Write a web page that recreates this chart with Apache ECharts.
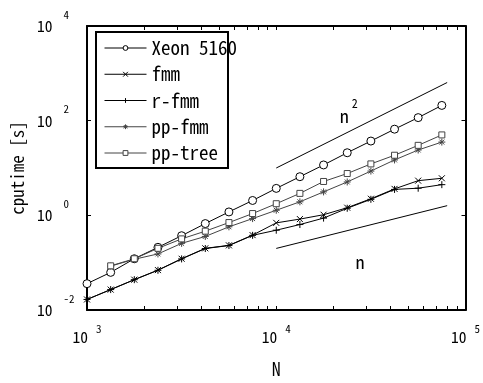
<!DOCTYPE html>
<html><head><meta charset="utf-8">
<script src="https://cdn.jsdelivr.net/npm/echarts@6/dist/echarts.min.js"></script>
<style>html,body{margin:0;padding:0;background:#fff}#c{width:483px;height:383px}</style>
</head><body><div id="c"></div>
<script>
// ---- data ----
const N      = [1000, 1334, 1778, 2371, 3162, 4217, 5623, 7499, 10000, 13335, 17783, 23714, 31623, 42170, 56234, 74989];
const xeon   = [0.036, 0.0624, 0.121, 0.211, 0.371, 0.670, 1.18, 2.06, 3.71, 6.55, 11.6, 21.0, 37.1, 66.1, 116, 210];
const fmm    = [0.0167, 0.0270, 0.0437, 0.0697, 0.121, 0.201, 0.232, 0.382, 0.693, 0.833, 1.03, 1.45, 2.24, 3.62, 5.40, 6.06];
const rfmm   = [0.0167, 0.0270, 0.0437, 0.0690, 0.120, 0.199, 0.230, 0.378, 0.485, 0.639, 0.874, 1.41, 2.18, 3.53, 3.74, 4.45];
const ppfmm  = [null, 0.0845, 0.118, 0.153, 0.256, 0.358, 0.572, 0.853, 1.28, 1.93, 3.13, 5.07, 8.61, 14.8, 24.0, 35.3];
const pptree = [null, 0.0857, 0.121, 0.201, 0.318, 0.463, 0.703, 1.09, 1.76, 2.91, 5.19, 7.64, 12.2, 18.6, 30.1, 50.0];
const refN   = [10000, 80000];
const refN2  = [10, 640];
const refN1  = [0.2, 1.6];
const names  = ['Xeon 5160', 'fmm', 'r-fmm', 'pp-fmm', 'pp-tree'];
const xMajor = [1000, 10000, 100000];
const xTicks = [1000, 2000, 3000, 4000, 5000, 6000, 7000, 8000, 9000, 10000, 20000, 30000, 40000, 50000, 60000, 70000, 80000, 90000, 100000];
const yMajor = [0.01, 1, 100, 10000];
const annoN2 = [23000, 160];
const annoN1 = [27700, 0.102];

const FONT = "'Noto Sans Mono CJK JP', 'DejaVu Sans Mono', monospace";
const pairs = (xs, ys) => xs.map((x, i) => [x, ys[i]]).filter(p => p[1] != null);

const P_X = 'path://M0,0L10,10M10,0L0,10';
const P_PLUS = 'path://M5,0L5,10M0,5L10,5';
const P_STAR = 'path://M5,0L5,10M0,5L10,5M1.5,1.5L8.5,8.5M8.5,1.5L1.5,8.5';

function mk(name, ys, symbol, size, color) {
  return {
    name, type: 'line', data: pairs(N, ys), symbol, symbolSize: size,
    showSymbol: true, animation: false, z: 3,
    lineStyle: { color, width: 1 },
    itemStyle: { color: '#fff', borderColor: color, borderWidth: 1 }
  };
}

const expFmt = v => '{b|10}{e|' + Math.round(Math.log10(v)) + '}';
const axisLineStyle = { show: true, lineStyle: { color: '#000', width: 2 } };

const chart = echarts.init(document.getElementById('c'), null, { renderer: 'canvas' });
chart.setOption({
  animation: false,
  backgroundColor: '#fff',
  grid: { left: 87, top: 26, width: 380, height: 287, containLabel: false },
  xAxis: [
    { type: 'log', logBase: 10, min: 1000, max: 100000, position: 'bottom',
      name: 'N', nameLocation: 'middle', nameGap: 50,
      nameTextStyle: { fontSize: 18, fontFamily: FONT, color: '#000' },
      axisLine: axisLineStyle,
      axisTick: { show: true, inside: true, length: 4, customValues: xTicks, lineStyle: { color: '#000' } },
      minorTick: { show: false }, splitLine: { show: false },
      axisLabel: { customValues: xMajor, margin: 13, formatter: expFmt, color: '#000',
        rich: { b: { fontSize: 15.5, fontFamily: FONT, lineHeight: 28, verticalAlign: 'middle', color: '#000' },
                e: { fontSize: 11, fontFamily: FONT, lineHeight: 10, verticalAlign: 'top', padding: [0, 0, 0, 8], color: '#000' } } } },
    { type: 'log', logBase: 10, min: 1000, max: 100000, position: 'top',
      axisLine: axisLineStyle,
      axisTick: { show: true, inside: true, length: 4, customValues: xTicks, lineStyle: { color: '#000' } },
      splitLine: { show: false }, axisLabel: { show: false } }
  ],
  yAxis: [
    { type: 'log', logBase: 10, min: 0.01, max: 10000, position: 'left',
      name: 'cputime [s]', nameLocation: 'middle', nameGap: 58,
      nameTextStyle: { fontSize: 17, fontFamily: FONT, color: '#000' },
      axisLine: axisLineStyle,
      axisTick: { show: true, inside: true, length: 4, customValues: yMajor, lineStyle: { color: '#000' } },
      splitLine: { show: false },
      axisLabel: { customValues: yMajor, margin: 50, align: 'left', formatter: expFmt, color: '#000',
        rich: { b: { fontSize: 15.5, fontFamily: FONT, lineHeight: 34, verticalAlign: 'middle', color: '#000' },
                e: { fontSize: 11, fontFamily: FONT, lineHeight: 12, verticalAlign: 'top', padding: [0, 0, 0, 11], color: '#000' } } } },
    { type: 'log', logBase: 10, min: 0.01, max: 10000, position: 'right',
      axisLine: axisLineStyle,
      axisTick: { show: true, inside: true, length: 4, customValues: yMajor, lineStyle: { color: '#000' } },
      splitLine: { show: false }, axisLabel: { show: false } }
  ],
  legend: {
    data: names, orient: 'vertical', left: 104, top: 38, padding: 0,
    itemWidth: 42, itemHeight: 6, itemGap: 6.25, selectedMode: false,
    lineStyle: { width: 1 },
    itemStyle: { borderWidth: 1 },
    textStyle: { fontSize: 19, fontFamily: FONT, lineHeight: 20, color: '#000' }
  },
  series: [
    mk(names[0], xeon, 'circle', 8, '#000'),
    mk(names[1], fmm, P_X, 6, '#000'),
    mk(names[2], rfmm, P_PLUS, 7, '#000'),
    mk(names[3], ppfmm, P_STAR, 7, '#444'),
    mk(names[4], pptree, 'rect', 6, '#444'),
    { name: 'n2ref', type: 'line', data: pairs(refN, refN2), showSymbol: false, symbol: 'none', silent: true,
      lineStyle: { color: '#000', width: 1 } },
    { name: 'n1ref', type: 'line', data: pairs(refN, refN1), showSymbol: false, symbol: 'none', silent: true,
      lineStyle: { color: '#000', width: 1 } }
  ]
});

const pN2 = chart.convertToPixel({ xAxisIndex: 0, yAxisIndex: 0 }, annoN2);
const pN1 = chart.convertToPixel({ xAxisIndex: 0, yAxisIndex: 0 }, annoN1);
chart.setOption({
  graphic: [
    { type: 'rect', shape: { x: 96, y: 32, width: 132, height: 136 }, z: 100,
      style: { fill: 'none', stroke: '#000', lineWidth: 2 } },
    { type: 'text', x: pN2[0] - 5, y: pN2[1], z: 100,
      style: { text: '{b|n}{e|2}', align: 'left', verticalAlign: 'middle', fill: '#000',
        rich: { b: { fontSize: 18, fontFamily: FONT, lineHeight: 28, verticalAlign: 'bottom' },
                e: { fontSize: 12, fontFamily: FONT, lineHeight: 14, verticalAlign: 'top', padding: [0, 0, 0, 3] } } } },
    { type: 'text', x: pN1[0], y: pN1[1], z: 100,
      style: { text: 'n', align: 'center', verticalAlign: 'middle', fill: '#000', fontSize: 18, fontFamily: FONT } }
  ]
});
</script></body></html>
